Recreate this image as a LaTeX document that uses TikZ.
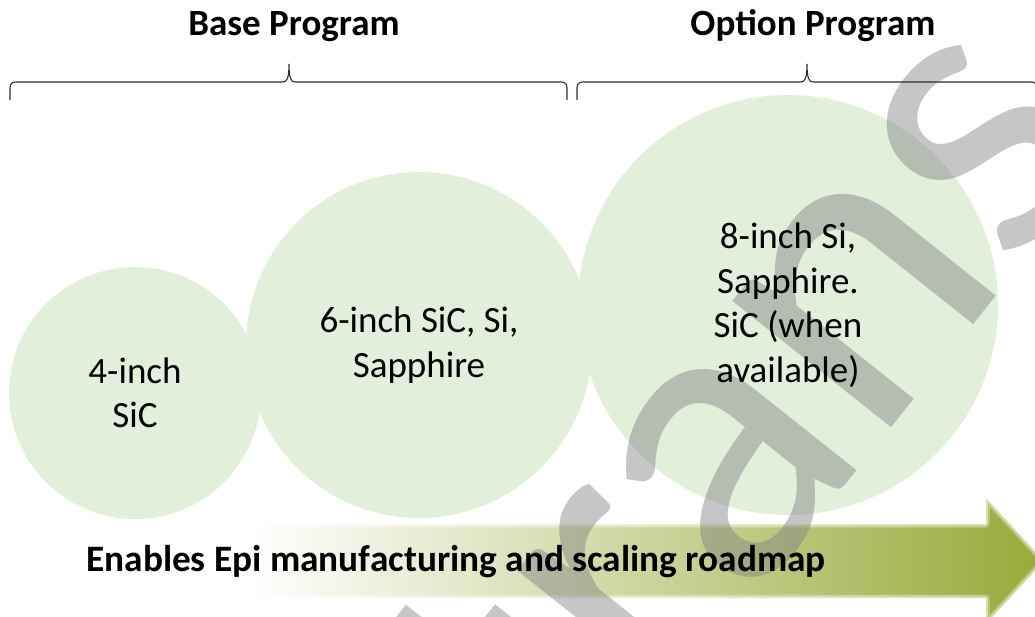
\documentclass[tikz,border=0pt]{standalone}
\usepackage{fontspec}
\setmainfont{Carlito}
\newfontfamily\wmfont{Carlito}
\definecolor{disc}{RGB}{226,239,218}
\definecolor{olive}{RGB}{152,170,58}
\definecolor{bracecol}{RGB}{45,45,45}
\tikzset{
  disc/.style={circle, fill=disc, draw=none, inner sep=0pt},
  disctext/.style={align=center, font=\fontsize{37}{44.5}\selectfont, text=black},
  title/.style={font=\bfseries\fontsize{37}{40}\selectfont, anchor=base},
  brace/.style={draw=bracecol, line width=1.1pt},
  arrowshape/.style={insert path={(250,524) -- (986,524) -- (986,498) -- (1044,561)
      -- (986,624) -- (986,598) -- (250,598) -- cycle}},
}
\begin{document}
\begin{tikzpicture}[x=1pt, y=-1pt]
\useasboundingbox (0,0) rectangle (1035,616);
\clip (0,0) rectangle (1035,616);

% wafer-size discs
\node[disc, minimum size=252pt] (c1) at (135,393) {};
\node[disc, minimum size=346pt] (c2) at (419,345) {};
\node[disc, minimum size=420pt] (c3) at (788,305) {};

% roadmap arrow, with softened rim
\path[left color=white, right color=olive, arrowshape];
\path[draw=white, line width=7pt, draw opacity=0.3, line join=round, arrowshape];
\path[draw=white, line width=3.5pt, draw opacity=0.4, line join=round, arrowshape];

% watermark
\node[rotate=51.5, anchor=base, text=gray, text opacity=0.45,
      font=\wmfont\fontsize{425}{425}\selectfont] (wm) at (843,488) {trans};

% disc labels
\node[disctext] (t1) at (c1) {4-inch\\SiC};
\node[disctext] (t2) at (c2) {6-inch SiC, Si,\\Sapphire};
\node[disctext] (t3) at (c3) {8-inch Si,\\Sapphire.\\SiC (when\\available)};

% program headings and braces
\node[title] (base) at (294,35) {Base Program};
\node[title] (opt) at (813,35) {Option Program};

\draw[brace] (10,100) -- (10,88) .. controls (10,84) and (12,82) .. (16,82)
  -- (283,82) .. controls (287,82) and (289,78) .. (289,64)
  .. controls (289,78) and (291,82) .. (295,82)
  -- (561,82) .. controls (565,82) and (567,84) .. (567,88) -- (567,100);
\draw[brace] (577,100) -- (577,88) .. controls (577,84) and (579,82) .. (583,82)
  -- (801,82) .. controls (805,82) and (807,78) .. (807,64)
  .. controls (807,78) and (809,82) .. (813,82)
  -- (1031,82) .. controls (1035,82) and (1037,84) .. (1037,88) -- (1037,100);

% arrow caption
\node[font=\bfseries\fontsize{37.3}{40}\selectfont, anchor=base] (cap) at (456,571)
  {Enables Epi manufacturing and scaling roadmap};
\end{tikzpicture}
\end{document}
